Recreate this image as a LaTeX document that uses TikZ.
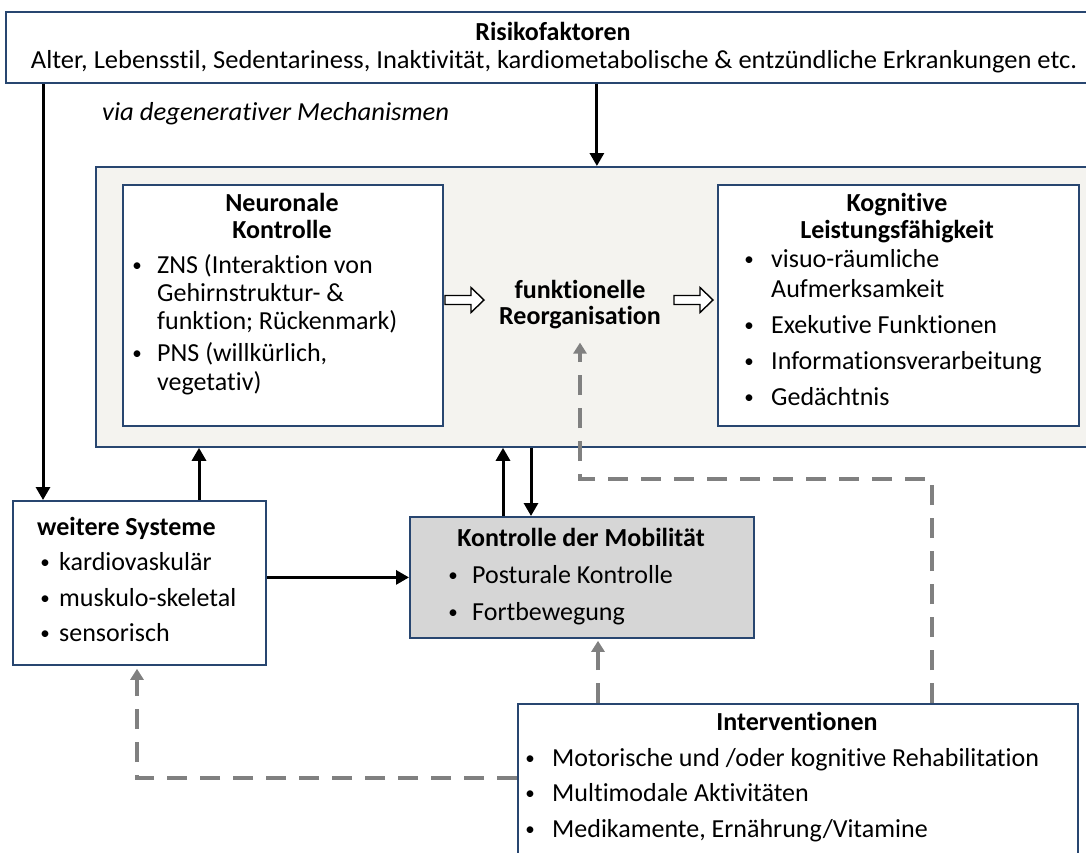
\documentclass[tikz,border=0pt]{standalone}
\usepackage{fontspec}
\setmainfont{Carlito}[Ligatures=NoCommon]
\usetikzlibrary{arrows.meta}
\definecolor{bordc}{HTML}{284670}
\definecolor{mobfill}{HTML}{D6D6D6}
\definecolor{bigfill}{HTML}{F4F3EF}
\definecolor{dashc}{HTML}{808080}
\begin{document}
\begin{tikzpicture}[x=1pt,y=-1pt,
  box/.style={draw=bordc, line width=1.8pt, fill=white, inner sep=0pt, anchor=north west},
  txt/.style={font=\fontsize{26}{30}\selectfont, inner sep=0pt, anchor=base west},
  bul/.style={font=\fontsize{19}{20}\selectfont, inner sep=0pt, anchor=base},
  hd/.style={font=\bfseries\fontsize{26}{30}\selectfont, inner sep=0pt, anchor=base},
  hdl/.style={font=\bfseries\fontsize{26}{30}\selectfont, inner sep=0pt, anchor=base west},
  blk/.style={line width=3pt, -{Triangle[width=14pt,length=13pt]}},
  dsh/.style={line width=3.5pt, draw=dashc, dash pattern=on 20pt off 13pt,
              -{Triangle[width=13pt,length=11pt]}},
  hollow/.style={draw=black, line width=1.4pt, fill=white, line join=miter},
  hollowarr/.pic={\draw[hollow] (0,-4.5) -- (26,-4.5) -- (26,-12.5) -- (39,0)
                   -- (26,12.5) -- (26,4.5) -- (0,4.5) -- cycle;}
]
\useasboundingbox (0,0) rectangle (1086,852);
\clip (0,0) rectangle (1086,852);

% ---------- boxes ----------
\node[box, minimum width=1096pt, minimum height=71pt] (risk) at (5,11) {};
\node[box, fill=bigfill, minimum width=1000pt, minimum height=280pt] (big) at (95,166) {};
\node[box, minimum width=320pt, minimum height=241pt] (neur) at (122,184) {};
\node[box, minimum width=361pt, minimum height=241pt] (kog) at (717,184) {};
\node[box, minimum width=253pt, minimum height=164pt] (wsys) at (12,500) {};
\node[box, fill=mobfill, minimum width=344pt, minimum height=121pt] (kont) at (409,516) {};
\node[box, minimum width=560pt, minimum height=167pt] (intv) at (517,703) {};

% ---------- Risikofaktoren ----------
\node[hd] (riskh) at (553,40) {Risikofaktoren};
\node[txt, anchor=base] (riskl) at (554,68) {\resizebox{1046pt}{\height}{Alter, Lebensstil, Sedentariness, Inaktivität, kardiometabolische \& entzündliche Erkrankungen etc.}};
\node[txt, font=\itshape\fontsize{26}{30}\selectfont] (via) at (102,120) {\resizebox{347pt}{\height}{via degenerativer Mechanismen}};

% ---------- Neuronale Kontrolle ----------
\node[hd] (neurh1) at (282,211) {Neuronale};
\node[hd] (neurh2) at (282,238) {Kontrolle};
\node[bul] (neurb1) at (137,271) {\textbullet};
\node[txt] (neur1) at (157,273) {ZNS (Interaktion von};
\node[txt] (neur2) at (157,301) {Gehirnstruktur- \&};
\node[txt] (neur3) at (157,329) {funktion; Rückenmark)};
\node[bul] (neurb2) at (137,359) {\textbullet};
\node[txt] (neur4) at (157,361) {PNS (willkürlich,};
\node[txt] (neur5) at (157,390) {vegetativ)};

% ---------- funktionelle Reorganisation ----------
\node[hd] (funk) at (580,298) {funktionelle};
\node[hd] (reorg) at (580,324) {Reorganisation};

% ---------- Kognitive Leistungsfaehigkeit ----------
\node[hd] (kogh1) at (897,211) {Kognitive};
\node[hd] (kogh2) at (897,238) {Leistungsfähigkeit};
\node[bul] (kogb1) at (749,265) {\textbullet};
\node[txt] (kog1) at (771,267) {visuo-räumliche};
\node[txt] (kog2) at (771,297) {Aufmerksamkeit};
\node[bul] (kogb2) at (749,331) {\textbullet};
\node[txt] (kog3) at (771,333) {Exekutive Funktionen};
\node[bul] (kogb3) at (749,367) {\textbullet};
\node[txt] (kog4) at (771,369) {Informationsverarbeitung};
\node[bul] (kogb4) at (749,403) {\textbullet};
\node[txt] (kog5) at (771,405) {Gedächtnis};

% ---------- weitere Systeme ----------
\node[hdl] (wsysh) at (37,535) {weitere Systeme};
\node[bul] (wsysb1) at (45,568) {\textbullet};
\node[txt] (wsys1) at (59,570) {kardiovaskulär};
\node[bul] (wsysb2) at (45,604) {\textbullet};
\node[txt] (wsys2) at (59,606) {muskulo-skeletal};
\node[bul] (wsysb3) at (45,639) {\textbullet};
\node[txt] (wsys3) at (59,641) {sensorisch};

% ---------- Kontrolle der Mobilitaet ----------
\node[hd] (konth) at (581,546) {Kontrolle der Mobilität};
\node[bul] (kontb1) at (453,581) {\textbullet};
\node[txt] (kont1) at (472,583) {Posturale Kontrolle};
\node[bul] (kontb2) at (453,618) {\textbullet};
\node[txt] (kont2) at (472,620) {Fortbewegung};

% ---------- Interventionen ----------
\node[hd] (intvh) at (797,730) {Interventionen};
\node[bul] (intvb1) at (530,764) {\textbullet};
\node[txt] (intv1) at (552,766) {Motorische und /oder kognitive Rehabilitation};
\node[bul] (intvb2) at (530,799) {\textbullet};
\node[txt] (intv2) at (552,801) {Multimodale Aktivitäten};
\node[bul] (intvb3) at (530,835) {\textbullet};
\node[txt] (intv3) at (552,837) {Medikamente, Ernährung/Vitamine};

% ---------- hollow arrows ----------
\pic (ha1) at (445,300) {hollowarr};
\pic (ha2) at (674,300) {hollowarr};

% ---------- black arrows ----------
\draw[blk] ([xshift=38pt]risk.south west) -- ([xshift=31pt]wsys.north west);
\draw[blk] ([xshift=43pt]risk.south) -- ([xshift=43pt]risk.south |- big.north);
\draw[blk] ([xshift=187pt]wsys.north west) -- ([xshift=187pt]wsys.north west |- big.south);
\draw[blk] ([xshift=94pt]kont.north west) -- ([xshift=94pt]kont.north west |- big.south);
\draw[blk] ([xshift=122pt]kont.north west |- big.south) -- ([xshift=122pt]kont.north west);
\draw[blk] (wsys.east |- kont.west) -- (kont.west);

% ---------- dashed grey arrows ----------
\coordinate (dcorner) at (932,479);
\draw[dsh, shorten >=3pt] ([yshift=-75pt]intv.north west) -| ([xshift=125pt]wsys.south west);
\draw[dsh, shorten >=2pt] ([xshift=81pt]intv.north west) -- ([xshift=81pt]intv.north west |- kont.south);
\draw[dsh] ([xshift=415pt]intv.north west) -- (dcorner) -| ([yshift=-14pt]reorg.south);
\end{tikzpicture}
\end{document}
